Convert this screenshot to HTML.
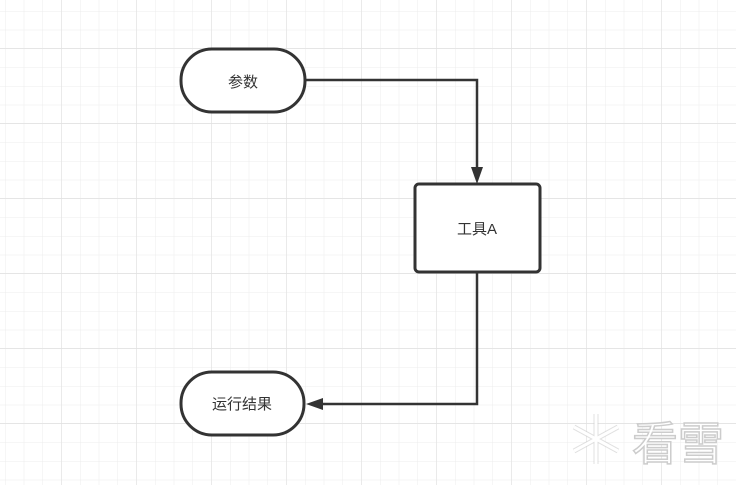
<!DOCTYPE html>
<html><head><meta charset="utf-8"><style>
html,body{margin:0;padding:0;width:736px;height:485px;overflow:hidden;background:#fff}
svg{display:block}
text{font-family:"Liberation Sans","Noto Sans CJK SC",sans-serif}
</style></head><body>
<svg width="736" height="485" xmlns="http://www.w3.org/2000/svg">
<defs>
<pattern id="minor" x="5" y="11" width="18.75" height="18.75" patternUnits="userSpaceOnUse">
<path d="M0 0V18.75M0 0H18.75" stroke="#ececec" stroke-width="1" fill="none"/>
</pattern>
<pattern id="major" x="61" y="48" width="75" height="75" patternUnits="userSpaceOnUse">
<path d="M0 0V75M0 0H75" stroke="#dedede" stroke-width="1" fill="none"/>
</pattern>
</defs>
<rect width="736" height="485" fill="url(#minor)"/>
<rect width="736" height="485" fill="url(#major)"/>

<rect x="181" y="49" width="124" height="63" rx="31" fill="#fff" stroke="#333" stroke-width="3"/>
<text x="243" y="87" font-size="15" text-anchor="middle" fill="#333">参数</text>

<rect x="415" y="184" width="125" height="88" rx="4" fill="#fff" stroke="#333" stroke-width="3"/>
<text x="477" y="234" font-size="15" text-anchor="middle" fill="#333">工具A</text>

<rect x="181" y="372" width="123" height="63" rx="31" fill="#fff" stroke="#333" stroke-width="3"/>
<text x="242" y="409" font-size="15" text-anchor="middle" fill="#333">运行结果</text>

<path d="M305 80H477V168" fill="none" stroke="#333" stroke-width="2.5"/>
<path d="M471 167L477 184L483 167Z" fill="#333"/>
<path d="M477 272V404H323" fill="none" stroke="#333" stroke-width="2.5"/>
<path d="M323 398L306 404L323 410Z" fill="#333"/>

<g stroke="#ccc" stroke-width="5" fill="none" opacity="0.6">
<path d="M596 414V464M574 427L618 451M574 451L618 427"/>
</g>
<g stroke="#fff" stroke-width="3" fill="none">
<path d="M596 414V464M574 427L618 451M574 451L618 427"/>
</g>
<text x="632" y="460" font-size="46" fill="#fff" stroke="#ccc" stroke-width="1.5">看雪</text>
</svg>
</body></html>
